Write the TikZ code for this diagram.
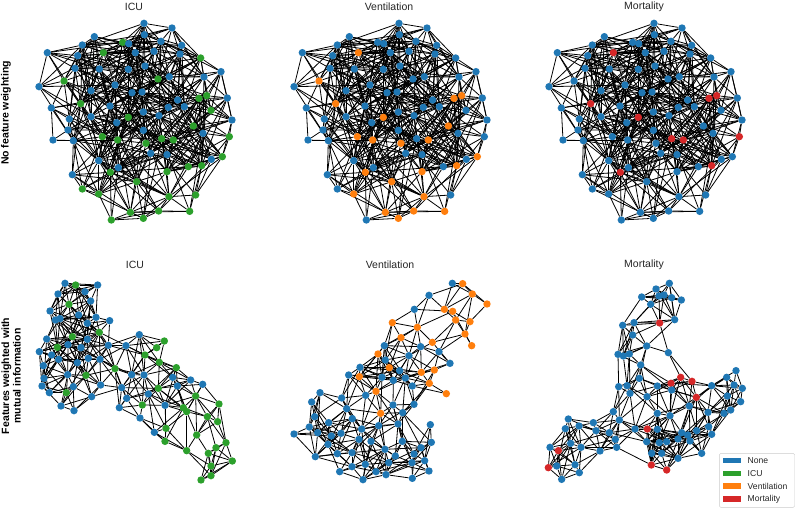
\documentclass[tikz,border=0pt]{standalone}
\usepackage{fontspec}
\setmainfont{Liberation Sans}
\definecolor{tblue}{HTML}{1F77B4}
\definecolor{tgreen}{HTML}{2CA02C}
\definecolor{torange}{HTML}{FF7F0E}
\definecolor{tred}{HTML}{D62728}
\definecolor{ttext}{HTML}{262626}
\pgfdeclarelayer{bglayer}
\pgfdeclarelayer{edgelayer}
\pgfsetlayers{bglayer,edgelayer,main}

\def\toplist{342/70/0, 426/84/0, 193/110/0, 343/104/0, 278/127/1, 296/131/0, 393/124/0, 157/135/0, 455/136/0, 52/158/0, 143/167/0, 220/158/3, 316/158/0, 372/154/0, 450/162/0, 512/174/1, 135/205/0, 208/207/0, 295/208/0, 345/198/0, 573/215/0, 102/243/2, 384/237/1, 418/230/0, 522/231/0, 27/260/0, 255/255/0, 183/272/0, 306/278/0, 336/276/0, 592/294/0, 507/295/3, 530/287/3, 443/300/0, 152/311/3, 64/324/0, 240/318/0, 415/322/0, 463/320/0, 543/331/1, 118/357/0, 183/350/0, 295/352/3, 340/336/0, 387/347/0, 606/360/0, 260/368/0, 490/378/2, 114/390/0, 340/391/0, 69/420/0, 130/422/0, 217/410/2, 263/420/2, 395/416/4, 430/420/3, 348/430/2, 519/400/0, 598/410/4, 362/460/0, 411/464/0, 544/478/0, 577/470/2, 206/482/0, 475/500/1, 515/497/3, 265/503/0, 127/524/0, 241/517/3, 411/515/2, 320/545/2, 157/567/1, 206/582/2, 417/590/2, 497/585/1, 301/637/2, 386/633/2, 479/634/2, 244/660/1, 340/655/2}

\def\bla{195/130/0, 227/135/1, 293/135/0, 255/155/0, 174/162/0, 272/183/0, 207/193/1, 150/213/0, 236/225/0, 166/240/0, 180/236/0, 262/250/0, 288/232/0, 329/242/0, 298/277/1, 217/290/1, 140/297/0, 262/298/0, 243/323/0, 204/314/0, 172/322/1, 418/284/0, 493/303/1, 325/316/0, 378/317/0, 470/323/1, 118/335/0, 155/345/0, 176/358/0, 232/368/0, 265/355/0, 300/358/0, 435/345/1, 478/367/1, 130/377/0, 345/386/1, 203/404/0, 258/406/1, 395/404/0, 432/405/0, 529/383/1, 518/412/0, 132/415/0, 126/438/0, 220/440/0, 302/435/0, 365/443/0, 475/445/1, 532/438/0, 572/420/0, 608/433/0, 148/458/0, 199/458/1, 275/470/0, 445/462/0, 380/475/0, 587/468/1, 427/495/1, 495/496/0, 550/503/1, 560/515/1, 657/492/1, 183/498/0, 222/512/0, 358/503/0, 420/534/0, 622/530/1, 653/545/1, 498/565/1, 463/577/0, 590/585/1, 495/604/1, 560/632/1, 678/608/1, 648/623/1, 625/640/1, 697/663/1, 633/678/1, 603/720/1, 633/707/1}

\def\blb{547/130/0, 578/131/1, 607/162/1, 477/166/0, 651/192/1, 433/208/0, 523/208/1, 548/214/1, 557/240/1, 600/245/1, 367/248/1, 442/262/1, 585/282/1, 393/293/1, 487/307/1, 605/317/1, 343/317/0, 452/320/0, 417/347/0, 324/342/1, 507/335/0, 346/360/0, 540/370/0, 270/382/0, 358/383/1, 389/392/0, 454/397/1, 493/390/1, 236/405/0, 268/410/1, 336/412/0, 370/421/0, 406/414/0, 478/430/1, 427/438/0, 150/458/0, 318/454/1, 529/461/1, 215/474/0, 287/466/0, 125/486/0, 230/506/0, 369/495/0, 432/493/0, 332/520/1, 398/518/0, 134/530/0, 247/536/0, 176/548/0, 326/557/0, 384/552/0, 481/554/0, 72/582/0, 118/561/0, 143/578/0, 275/567/0, 213/580/0, 184/588/0, 174/613/0, 267/598/0, 303/604/0, 397/604/0, 484/607/0, 453/623/0, 202/641/0, 246/638/0, 345/628/0, 376/648/0, 136/650/0, 432/642/0, 464/662/0, 246/680/0, 286/673/0, 356/668/0, 426/668/0, 209/695/0, 318/695/0, 348/704/0, 477/693/0, 279/719/0, 427/715/0}

\def\blc{448/130/0, 408/147/0, 432/165/0, 455/173/0, 365/171/0, 392/193/0, 484/180/0, 417/168/0, 308/256/0, 342/248/0, 419/249/1, 464/239/0, 338/285/0, 380/318/0, 445/338/0, 294/343/0, 310/348/0, 328/342/0, 362/375/0, 358/415/0, 296/440/0, 321/437/0, 330/460/0, 381/470/0, 412/438/0, 453/430/1, 482/412/1, 516/424/1, 455/450/0, 575/437/0, 620/412/0, 648/392/0, 642/435/0, 667/445/0, 622/468/0, 662/485/0, 632/510/0, 612/520/0, 529/472/1, 508/498/0, 564/517/0, 280/515/0, 412/520/0, 450/527/0, 145/537/0, 220/548/0, 298/540/0, 177/558/0, 228/572/0, 268/578/0, 136/566/0, 345/567/0, 382/567/1, 412/568/0, 566/560/0, 530/572/0, 286/598/0, 485/578/0, 575/583/0, 503/585/0, 474/597/0, 440/605/0, 418/608/0, 380/605/0, 510/603/0, 152/610/0, 183/622/0, 240/633/0, 290/622/0, 90/622/0, 115/632/1, 395/640/0, 425/640/0, 545/640/0, 474/655/0, 394/675/1, 440/690/1, 85/683/1, 110/678/0, 165/674/0, 178/698/0, 125/718/0}

% #1 prefix, #2 list, #3 seed, #4 near distance, #5 far distance
\newcommand\netpanel[5]{%
  \foreach \x/\y/\f [count=\n] in #2 {%
    \node[dot, fill=f\f] (#1\n) at (\x,\y) {};
    \expandafter\xdef\csname X#1\n\endcsname{\x}%
    \expandafter\xdef\csname Y#1\n\endcsname{\y}%
    \xdef\NN{\n}%
  }%
  \pgfmathsetseed{#3}%
  \begin{pgfonlayer}{edgelayer}
  \foreach \i in {1,...,\NN} {%
    \foreach \j in {\i,...,\NN} {%
      \ifnum\j>\i
        \edef\xa{\csname X#1\i\endcsname}\edef\ya{\csname Y#1\i\endcsname}%
        \edef\xb{\csname X#1\j\endcsname}\edef\yb{\csname Y#1\j\endcsname}%
        \pgfmathsetmacro\dd{veclen(\xa-\xb,\ya-\yb)}%
        \pgfmathsetmacro\rr{rnd}%
        \pgfmathtruncatemacro\ok{((\dd<#4)*(\rr<\pnear)+(\dd>=#4)*(\dd<#5)*(\rr<\pfar))>0}%
        \ifnum\ok=1 \draw[edge] (#1\i) -- (#1\j); \fi
      \fi
    }%
  }%
  \end{pgfonlayer}
}

\begin{document}
\begin{tikzpicture}[x=1pt,y=-1pt,
  dot/.style={circle, inner sep=0pt, minimum size=7.4pt, draw=none},
  edge/.style={black, line width=0.8pt},
  ttl/.style={text=ttext, font=\fontsize{10.5}{12}\selectfont},
  rowlab/.style={text=black, font=\fontsize{10.5}{11.5}\selectfont\bfseries, rotate=90, align=center},
  legpatch/.style={rectangle, inner sep=0pt, minimum width=18pt, minimum height=5.5pt},
  legtext/.style={anchor=west, inner sep=0pt, text=ttext, font=\fontsize{8.6}{10}\selectfont}]
\useasboundingbox (0,0) rectangle (797,508);
\begin{pgfonlayer}{bglayer}
\fill[white] (0,0) rectangle (797,508);
\end{pgfonlayer}

% titles
\node[ttl] (t1) at (134,7) {ICU};
\node[ttl] (t2) at (389,7) {Ventilation};
\node[ttl] (t3) at (644,7) {Mortality};
\node[ttl] (t4) at (135,265) {ICU};
\node[ttl] (t5) at (390,265) {Ventilation};
\node[ttl] (t6) at (644,265) {Mortality};

% row labels
\node[rowlab] (r1) at (6,113) {No feature weighting};
\node[rowlab] (r2) at (11,376) {Features weighted with\\mutual information};

\def\pnear{0.85}\def\pfar{0.3}
\begin{scope}[shift={(30,0)}, x={(0.33333pt,0pt)}, y={(0pt,-0.33333pt)}]
  \colorlet{f0}{tblue}\colorlet{f1}{tgreen}\colorlet{f2}{tgreen}\colorlet{f3}{tgreen}\colorlet{f4}{tgreen}
  \netpanel{a}{\toplist}{11}{120}{250}
\end{scope}
\begin{scope}[shift={(285,0)}, x={(0.33333pt,0pt)}, y={(0pt,-0.33333pt)}]
  \colorlet{f0}{tblue}\colorlet{f1}{tblue}\colorlet{f2}{torange}\colorlet{f3}{torange}\colorlet{f4}{tblue}
  \netpanel{b}{\toplist}{11}{120}{250}
\end{scope}
\begin{scope}[shift={(540,0)}, x={(0.33333pt,0pt)}, y={(0pt,-0.33333pt)}]
  \colorlet{f0}{tblue}\colorlet{f1}{tblue}\colorlet{f2}{tblue}\colorlet{f3}{tred}\colorlet{f4}{tred}
  \netpanel{c}{\toplist}{11}{120}{250}
\end{scope}

\def\pnear{0.95}\def\pfar{0.45}
\begin{scope}[shift={(0,240)}, x={(0.33333pt,0pt)}, y={(0pt,-0.33333pt)}]
  \colorlet{f0}{tblue}\colorlet{f1}{tgreen}
  \netpanel{d}{\bla}{23}{78}{125}
\end{scope}
\begin{scope}[shift={(270,240)}, x={(0.33333pt,0pt)}, y={(0pt,-0.33333pt)}]
  \colorlet{f0}{tblue}\colorlet{f1}{torange}
  \netpanel{e}{\blb}{37}{78}{125}
\end{scope}
\begin{scope}[shift={(520,240)}, x={(0.33333pt,0pt)}, y={(0pt,-0.33333pt)}]
  \colorlet{f0}{tblue}\colorlet{f1}{tred}
  \netpanel{g}{\blc}{41}{78}{125}
\end{scope}

% legend
\draw[draw=black!20, fill=white, fill opacity=0.8, rounded corners=1.5pt] (719.3,453.3) rectangle (794.7,507.4);
\node[legpatch, fill=tblue] (l1) at (731.7,460.6) {};
\node[legpatch, fill=tgreen] (l2) at (731.7,473.4) {};
\node[legpatch, fill=torange] (l3) at (731.7,486.2) {};
\node[legpatch, fill=tred] (l4) at (731.7,499.0) {};
\node[legtext] (lt1) at (747.5,460.6) {None};
\node[legtext] (lt2) at (747.5,473.4) {ICU};
\node[legtext] (lt3) at (747.5,486.2) {Ventilation};
\node[legtext] (lt4) at (747.5,499.0) {Mortality};
\end{tikzpicture}
\end{document}
